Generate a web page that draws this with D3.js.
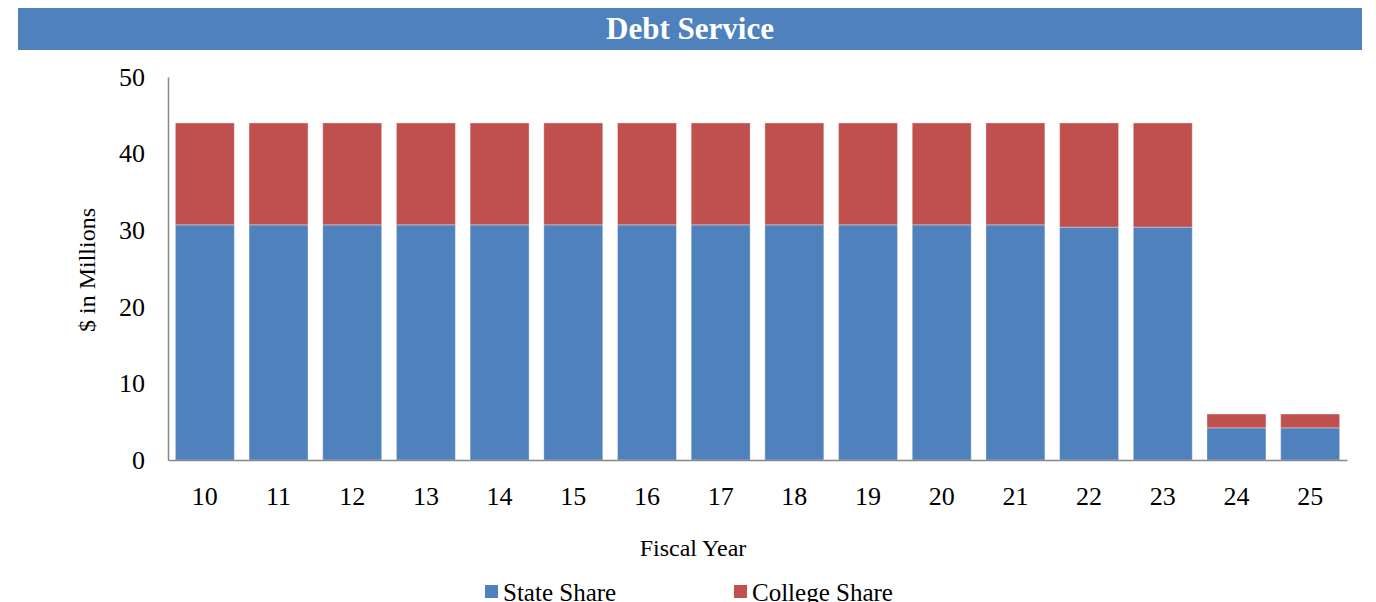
<!DOCTYPE html>
<html><head><meta charset="utf-8">
<script src="https://cdn.jsdelivr.net/npm/d3@7"></script>
<style>body{margin:0;background:#fff}svg{display:block}</style>
</head><body><svg id="c" width="1376" height="602"></svg>
<script>
const years = ["10","11","12","13","14","15","16","17","18","19","20","21","22","23","24","25"];
const stateShare = [30.7,30.7,30.7,30.7,30.7,30.7,30.7,30.7,30.7,30.7,30.7,30.7,30.4,30.4,4.2,4.2];
const collegeShare = [13.3,13.3,13.3,13.3,13.3,13.3,13.3,13.3,13.3,13.3,13.3,13.3,13.6,13.6,1.8,1.8];
const yTicks = [0,10,20,30,40,50];
const seriesNames = ["State Share","College Share"];
const colors = ["#4F81BD","#C0504D"];

const svg = d3.select("#c");
const font = "'Liberation Serif','Times New Roman',serif";
svg.append("rect").attr("x",18).attr("y",8).attr("width",1344).attr("height",42).attr("fill","#4F81BD");
svg.append("text").attr("x",690).attr("y",39).attr("text-anchor","middle").attr("fill","#fff")
  .attr("font-family",font).attr("font-weight","bold").attr("font-size",31).text("Debt Service");

const L=168,R=1347,T=77,B=460;
const x = d3.scaleBand().domain(years).range([L,R]).paddingInner(0.2).paddingOuter(0.1);
const y = d3.scaleLinear().domain([0,50]).range([B,T]);

const data = years.map((yr,i)=>({year:yr, s:stateShare[i], c:collegeShare[i]}));
const stack = d3.stack().keys(["s","c"])(data);
svg.append("g").selectAll("g").data(stack).join("g").attr("fill",(d,i)=>colors[i])
  .selectAll("rect").data(d=>d).join("rect")
  .attr("x",d=>x(d.data.year)).attr("width",x.bandwidth())
  .attr("y",d=>y(d[1])).attr("height",d=>y(d[0])-y(d[1]))
  .attr("stroke","rgba(255,255,255,0.35)").attr("stroke-width",1);

const ya = svg.append("g").attr("transform",`translate(${L},0)`)
  .call(d3.axisLeft(y).tickValues(yTicks).tickSize(0).tickPadding(23).tickFormat(d3.format("d")));
ya.select(".domain").attr("stroke","#888").attr("stroke-width",1.5);
ya.selectAll("text").attr("font-family",font).attr("font-size",26).attr("fill","#000");

const xa = svg.append("g").attr("transform",`translate(0,${B})`)
  .call(d3.axisBottom(x).tickSize(0).tickPadding(27));
xa.select(".domain").attr("stroke","#888").attr("stroke-width",1.5);
xa.selectAll("text").attr("font-family",font).attr("font-size",26).attr("fill","#000");

svg.append("text").attr("transform","translate(95,270) rotate(-90)").attr("text-anchor","middle")
  .attr("font-family",font).attr("font-size",24).text("$ in Millions");
svg.append("text").attr("x",693).attr("y",556).attr("text-anchor","middle")
  .attr("font-family",font).attr("font-size",24).text("Fiscal Year");

const legX=[485,734];
seriesNames.forEach((n,i)=>{
  svg.append("rect").attr("x",legX[i]).attr("y",585).attr("width",13).attr("height",13).attr("fill",colors[i]);
  svg.append("text").attr("x",legX[i]+18).attr("y",601).attr("font-family",font).attr("font-size",25).text(n);
});
</script></body></html>
